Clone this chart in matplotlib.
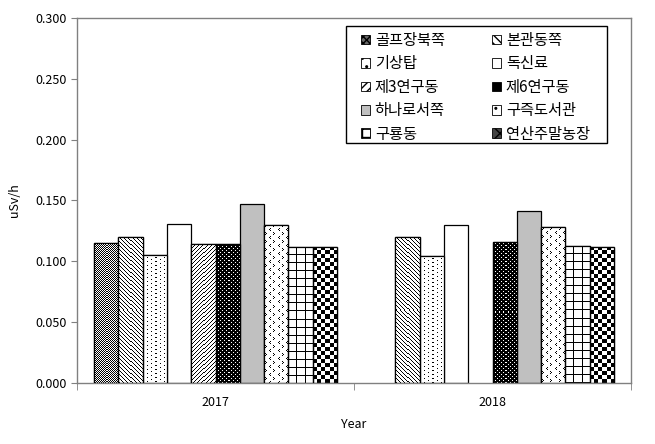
import numpy as np
import matplotlib
matplotlib.use("Agg")
import matplotlib.pyplot as plt
from matplotlib.patches import Patch, Rectangle

plt.rcParams['font.family'] = ['Noto Sans CJK KR', 'DejaVu Sans']

years = ['2017', '2018']
sites = ['골프장북쪽', '본관동쪽', '기상탑', '독신료', '제3연구동',
         '제6연구동', '하나로서쪽', '구즉도서관', '구룡동', '연산주말농장']
v2017 = [0.115, 0.120, 0.105, 0.131, 0.114, 0.114, 0.147, 0.130, 0.112, 0.112]
v2018 = [np.nan, 0.120, 0.104, 0.130, np.nan, 0.116, 0.141, 0.128, 0.113, 0.112]
yticks = [0.000, 0.050, 0.100, 0.150, 0.200, 0.250, 0.300]

W, H = 655, 444
fig = plt.figure(figsize=(W / 100, H / 100), dpi=100)
ax = fig.add_axes([77 / W, (H - 383) / H, (631 - 77) / W, (383 - 18) / H])
ax.set_xlim(-0.5, 1.5)
ax.set_ylim(0, 0.3)

# pattern generators (1 = white, 0 = black)
def pat(kind, ny, nx):
    i, j = np.mgrid[0:ny, 0:nx]
    if kind == 'fine':
        return ((i + j) % 2).astype(float)
    if kind == 'back':
        return ((i - j) % 4 != 0).astype(float)
    if kind == 'fwd':
        return ((i + j) % 4 != 0).astype(float)
    if kind == 'sdots':
        blk = ((i % 4 == 0) & (j % 8 == 0)) | ((i % 4 == 2) & (j % 8 == 4))
        return (~blk).astype(float)
    if kind == 'wdots':
        wht = ((i % 4 == 0) & (j % 4 == 0)) | ((i % 4 == 2) & (j % 4 == 2))
        return wht.astype(float)
    if kind == 'chev':
        a, b = i % 8, j % 8
        blk = ((a == 0) & (b == 1)) | ((a == 1) & (b == 2)) | ((a == 2) & (b == 1)) | \
              ((a == 4) & (b == 6)) | ((a == 5) & (b == 5)) | ((a == 6) & (b == 6))
        return (~blk).astype(float)
    if kind == 'grid':
        return (~((i % 8 == 0) | (j % 8 == 0))).astype(float)
    if kind == 'check':
        return (((i // 4) + (j // 4)) % 2).astype(float)
    return np.ones((ny, nx))

styles = ['fine', 'back', 'sdots', 'white', 'fwd', 'wdots', 'gray', 'chev', 'grid', 'check']
leg_hatch = ['xxxxx', '\\\\\\\\', '..', '', '////', '', '', '..', '++', 'xx']
leg_face = ['#666666', 'white', 'white', 'white', 'white', 'black', '#c0c0c0', 'white', 'white', '#444444']

n = len(sites)
bw = 0.0876
x = np.arange(len(years))
handles = []
for k in range(n):
    vals = [v2017[k], v2018[k]]
    face = '#c0c0c0' if styles[k] == 'gray' else 'white'
    bars = ax.bar(x + (k - (n - 1) / 2) * bw, vals, bw, color=face,
                  edgecolor='black', linewidth=0.9, zorder=2)
    if styles[k] not in ('gray', 'white'):
        for p in bars.patches:
            h = p.get_height()
            if not np.isfinite(h) or h <= 0:
                continue
            x0, y0, w = p.get_x(), p.get_y(), p.get_width()
            (px0, py0) = ax.transData.transform((x0, y0))
            (px1, py1) = ax.transData.transform((x0 + w, y0 + h))
            nx_, ny_ = max(int(round(px1 - px0)), 1), max(int(round(py1 - py0)), 1)
            arr = pat(styles[k], ny_, nx_)
            im = ax.imshow(arr, cmap='gray', vmin=0, vmax=1, extent=(x0, x0 + w, y0, y0 + h),
                           interpolation='nearest', aspect='auto', zorder=2.5)
            im.set_clip_path(p)
            ax.bar(x0 + w / 2, h, w, fill=False, edgecolor='black', linewidth=0.9, zorder=3)
    handles.append(Patch(facecolor=leg_face[k], edgecolor='black', hatch=leg_hatch[k], linewidth=0.6))

ax.set_xlim(-0.5, 1.5)
ax.set_ylim(0, 0.3)

for s in ax.spines.values():
    s.set_color('#808080')
    s.set_linewidth(1)

ax.set_yticks(yticks)
ax.set_yticklabels(['%.3f' % v for v in yticks], fontsize=9)
ax.tick_params(axis='y', colors='#808080', labelcolor='black', length=4, direction='out')
ax.set_xticks(x)
ax.set_xticklabels(years, fontsize=9)
ax.tick_params(axis='x', which='major', length=0, pad=9, labelcolor='black')
ax.set_xticks([-0.5, 0.5, 1.5], minor=True)
ax.tick_params(axis='x', which='minor', length=5, colors='#808080', direction='out')

ax.set_xlabel('Year', fontsize=9, labelpad=7)
ax.set_ylabel('uSv/h', fontsize=9, labelpad=10)

# legend frame (drawn separately to match box proportions)
fx0, fx1 = (346 - 77) / 554, (607 - 77) / 554
fy0, fy1 = (383 - 143) / 365, (383 - 26) / 365
ax.add_patch(Rectangle((fx0, fy0), fx1 - fx0, fy1 - fy0, transform=ax.transAxes,
                       facecolor='white', edgecolor='black', linewidth=1, zorder=4))

order = [0, 2, 4, 6, 8, 1, 3, 5, 7, 9]
leg = ax.legend([handles[i] for i in order], [sites[i] for i in order], ncol=2,
                loc='upper left', bbox_to_anchor=((361 - 77) / 554, (383 - 32) / 365),
                fontsize=11, frameon=False,
                handlelength=0.6, handleheight=0.6, handletextpad=0.3,
                columnspacing=3.1, labelspacing=0.42, borderpad=0, borderaxespad=0)
leg.set_zorder(5)

fig.savefig('out.png', dpi=100)
